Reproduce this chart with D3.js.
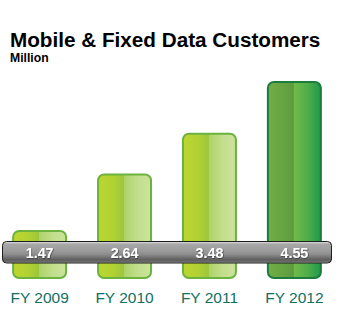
<!DOCTYPE html>
<html>
<head>
<meta charset="utf-8">
<script src="https://cdn.jsdelivr.net/npm/d3@7"></script>
<style>
  html, body { margin: 0; padding: 0; background: #ffffff; }
  svg { display: block; }
</style>
</head>
<body>
<svg id="chart" width="342" height="334"></svg>
<script>
// Data
const years = ["FY 2009", "FY 2010", "FY 2011", "FY 2012"];
const customers = [1.47, 2.64, 3.48, 4.55];
const valueLabels = ["1.47", "2.64", "3.48", "4.55"];
const barStyle = ["light", "light", "light", "dark"];

const svg = d3.select("#chart");
const font = "'Liberation Sans', Arial, Helvetica, sans-serif";

// Gradients
const defs = svg.append("defs");
function hGrad(id, stops) {
  const g = defs.append("linearGradient").attr("id", id)
    .attr("x1", "0%").attr("y1", "0%").attr("x2", "100%").attr("y2", "0%");
  stops.forEach(([o, c]) => g.append("stop").attr("offset", o).attr("stop-color", c));
}
hGrad("lightBar", [
  [0, "#bcd62f"], [0.28, "#b2d233"], [0.48, "#9cc63c"],
  [0.5, "#aed36a"], [0.75, "#c3de8c"], [1, "#cbe39c"]
]);
hGrad("darkBar", [
  [0, "#72ad46"], [0.3, "#66a442"], [0.48, "#5c9a3e"],
  [0.5, "#6fba48"], [0.75, "#4eae4a"], [1, "#1f9a49"]
]);
const band = defs.append("linearGradient").attr("id", "band")
  .attr("x1", "0%").attr("y1", "0%").attr("x2", "0%").attr("y2", "100%");
[[0, "#e6e6e6"], [0.12, "#a8a8a8"], [0.45, "#9a9a9a"], [0.6, "#8c8c8c"],
 [0.85, "#5e5e5e"], [0.93, "#6a6a6a"], [1, "#b8b8b8"]]
  .forEach(([o, c]) => band.append("stop").attr("offset", o).attr("stop-color", c));

const shadow = defs.append("filter").attr("id", "txtShadow")
  .attr("x", "-20%").attr("y", "-20%").attr("width", "140%").attr("height", "140%");
shadow.append("feDropShadow").attr("dx", 0.6).attr("dy", 0.6)
  .attr("stdDeviation", 0.4).attr("flood-color", "#222").attr("flood-opacity", 0.8);

// Scales
const x = d3.scaleBand().domain(years).range([-3, 337])
  .paddingInner(0.376).paddingOuter(0.19);
const y = d3.scaleLinear().domain([0.5, 4.55]).range([278, 82]);

// Title
svg.append("text").attr("x", 10).attr("y", 47)
  .attr("font-family", font).attr("font-weight", "bold").attr("font-size", 20.7)
  .attr("fill", "#000").text("Mobile & Fixed Data Customers");
svg.append("text").attr("x", 10).attr("y", 62)
  .attr("font-family", font).attr("font-weight", "bold").attr("font-size", 12.2)
  .attr("fill", "#000").text("Million");

// Bars
const data = years.map((yr, i) => ({ yr, v: customers[i], label: valueLabels[i], style: barStyle[i] }));
svg.append("g").selectAll("rect").data(data).join("rect")
  .attr("x", d => x(d.yr))
  .attr("y", d => y(d.v))
  .attr("width", x.bandwidth())
  .attr("height", d => y(0.5) - y(d.v))
  .attr("rx", 6).attr("ry", 6)
  .attr("fill", d => d.style === "dark" ? "url(#darkBar)" : "url(#lightBar)")
  .attr("stroke", d => d.style === "dark" ? "#1b7d3c" : "#6bb23e")
  .attr("stroke-width", 2);

// Value band
svg.append("rect").attr("x", 2.5).attr("y", 241.5).attr("width", 329).attr("height", 21.5)
  .attr("rx", 4).attr("ry", 4)
  .attr("fill", "url(#band)").attr("stroke", "#1e1e1e").attr("stroke-width", 1);

svg.append("g").selectAll("text").data(data).join("text")
  .attr("x", d => x(d.yr) + x.bandwidth() / 2)
  .attr("y", 257.5)
  .attr("text-anchor", "middle")
  .attr("font-family", font).attr("font-weight", "bold").attr("font-size", 14.3)
  .attr("fill", "#ffffff").attr("filter", "url(#txtShadow)")
  .text(d => d.label);

// Category axis labels
const axis = d3.axisBottom(x).tickSize(0).tickPadding(0);
const ax = svg.append("g").attr("transform", "translate(0,290.5)").call(axis);
ax.select(".domain").remove();
ax.selectAll("text")
  .attr("font-family", font).attr("font-size", 15.5)
  .attr("fill", "#11705f").attr("dy", "0.78em");
</script>
</body>
</html>
